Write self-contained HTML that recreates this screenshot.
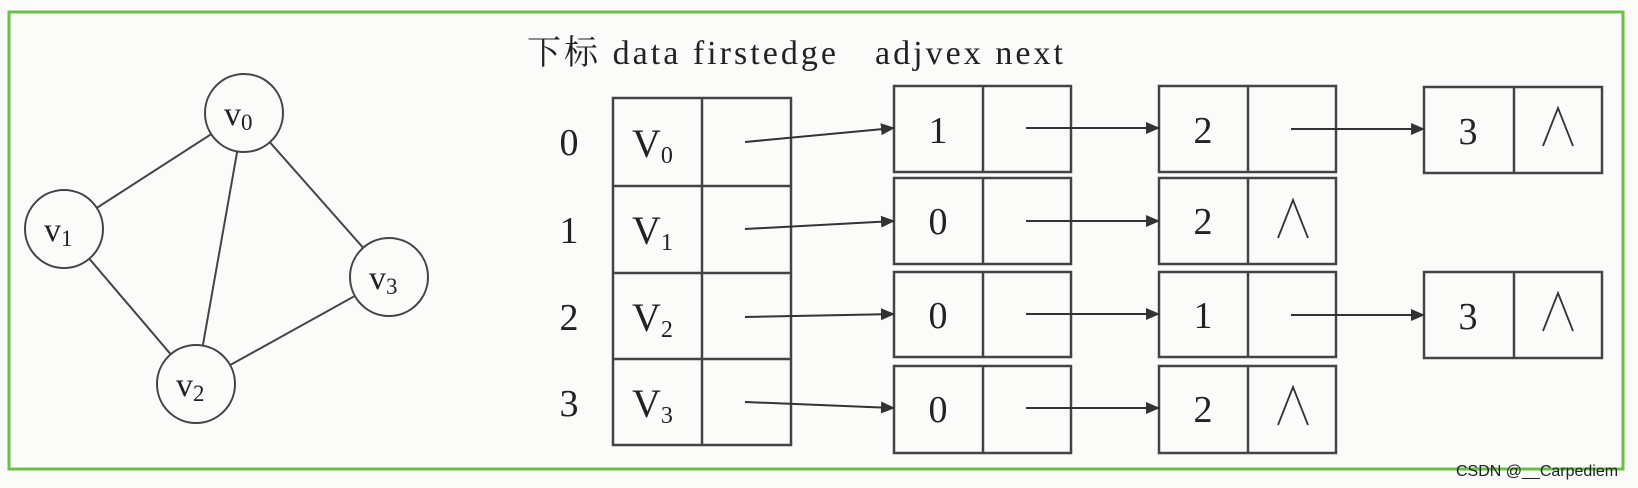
<!DOCTYPE html>
<html><head><meta charset="utf-8"><style>
html,body{margin:0;padding:0;background:#fbfbf9;}
svg{display:block;}
text{font-family:"Liberation Serif","Noto Serif CJK SC",serif;fill:#222;}
</style></head><body>
<svg width="1638" height="488" viewBox="0 0 1638 488" xmlns="http://www.w3.org/2000/svg">
<rect x="0" y="0" width="1638" height="488" fill="#fbfbf9"/>
<rect x="9" y="12" width="1614" height="457" fill="none" stroke="#6abf4b" stroke-width="3"/>
<defs><marker id="a" markerWidth="14" markerHeight="12" refX="13" refY="6" orient="auto" markerUnits="userSpaceOnUse"><path d="M0,0 L14,6 L0,12 Z" fill="#333"/></marker></defs>
<g stroke="#444" stroke-width="2" fill="none">
<line x1="244" y1="113" x2="64" y2="229"/>
<line x1="244" y1="113" x2="196" y2="384"/>
<line x1="244" y1="113" x2="389" y2="277"/>
<line x1="64" y1="229" x2="196" y2="384"/>
<line x1="389" y1="277" x2="196" y2="384"/>
</g>
<g stroke="#444" stroke-width="2" fill="#fbfbf9">
<circle cx="244" cy="113" r="39"/><circle cx="64" cy="229" r="39"/>
<circle cx="389" cy="277" r="39"/><circle cx="196" cy="384" r="39"/>
</g>
<g font-size="34">
<text x="224" y="125">v<tspan font-size="23" dy="5">0</tspan></text>
<text x="44" y="241">v<tspan font-size="23" dy="5">1</tspan></text>
<text x="369" y="289">v<tspan font-size="23" dy="5">3</tspan></text>
<text x="176" y="396">v<tspan font-size="23" dy="5">2</tspan></text>
</g>
<text x="527" y="64" font-size="34" textLength="309" lengthAdjust="spacing">下标 data firstedge</text>
<text x="875" y="64" font-size="34" textLength="188" lengthAdjust="spacing">adjvex next</text>
<g stroke="#444" stroke-width="2.5" fill="none">
<rect x="613" y="98" width="178" height="347"/>
<line x1="702" y1="98" x2="702" y2="445"/>
<line x1="613" y1="186" x2="791" y2="186"/>
<line x1="613" y1="273" x2="791" y2="273"/>
<line x1="613" y1="359" x2="791" y2="359"/>
<rect x="894" y="86" width="177" height="86"/><line x1="983" y1="86" x2="983" y2="172"/>
<rect x="894" y="178" width="177" height="86"/><line x1="983" y1="178" x2="983" y2="264"/>
<rect x="894" y="272" width="177" height="85"/><line x1="983" y1="272" x2="983" y2="357"/>
<rect x="894" y="366" width="177" height="87"/><line x1="983" y1="366" x2="983" y2="453"/>
<rect x="1159" y="86" width="177" height="86"/><line x1="1248" y1="86" x2="1248" y2="172"/>
<rect x="1159" y="178" width="177" height="86"/><line x1="1248" y1="178" x2="1248" y2="264"/>
<rect x="1159" y="272" width="177" height="85"/><line x1="1248" y1="272" x2="1248" y2="357"/>
<rect x="1159" y="366" width="177" height="87"/><line x1="1248" y1="366" x2="1248" y2="453"/>
<rect x="1424" y="87" width="178" height="86"/><line x1="1514" y1="87" x2="1514" y2="173"/>
<rect x="1424" y="272" width="178" height="86"/><line x1="1514" y1="272" x2="1514" y2="358"/>
</g>
<g stroke="#333" stroke-width="2" marker-end="url(#a)">
<line x1="745" y1="142" x2="894" y2="128"/>
<line x1="745" y1="229" x2="894" y2="221"/>
<line x1="745" y1="317" x2="894" y2="314"/>
<line x1="745" y1="402" x2="894" y2="408"/>
<line x1="1026" y1="128" x2="1159" y2="128"/>
<line x1="1026" y1="221" x2="1159" y2="221"/>
<line x1="1026" y1="314" x2="1159" y2="314"/>
<line x1="1026" y1="408" x2="1159" y2="408"/>
<line x1="1291" y1="129" x2="1424" y2="129"/>
<line x1="1291" y1="315" x2="1424" y2="315"/>
</g>
<g font-size="38" text-anchor="middle">
<text x="569" y="155">0</text><text x="569" y="243">1</text><text x="569" y="330">2</text><text x="569" y="416">3</text>
<text x="938" y="143">1</text><text x="938" y="234">0</text><text x="938" y="328">0</text><text x="938" y="422">0</text>
<text x="1203" y="143">2</text><text x="1203" y="234">2</text><text x="1203" y="328">1</text><text x="1203" y="422">2</text>
<text x="1468" y="144">3</text><text x="1468" y="329">3</text>
</g>
<g font-size="40" text-anchor="start">
<text x="632" y="157">V<tspan font-size="24" dy="6">0</tspan></text>
<text x="632" y="244">V<tspan font-size="24" dy="6">1</tspan></text>
<text x="632" y="331">V<tspan font-size="24" dy="6">2</tspan></text>
<text x="632" y="417">V<tspan font-size="24" dy="6">3</tspan></text>
</g>
<g stroke="#333" stroke-width="1.8" fill="none">
<polyline points="1543,146 1558,108 1573,146"/>
<polyline points="1278,238 1293,200 1308,238"/>
<polyline points="1543,331 1558,293 1573,331"/>
<polyline points="1278,425 1293,387 1308,425"/>
</g>
<text x="1456" y="476" font-size="16" style="font-family:'Liberation Sans',sans-serif" fill="#777">CSDN @__Carpediem</text>
</svg>
</body></html>
